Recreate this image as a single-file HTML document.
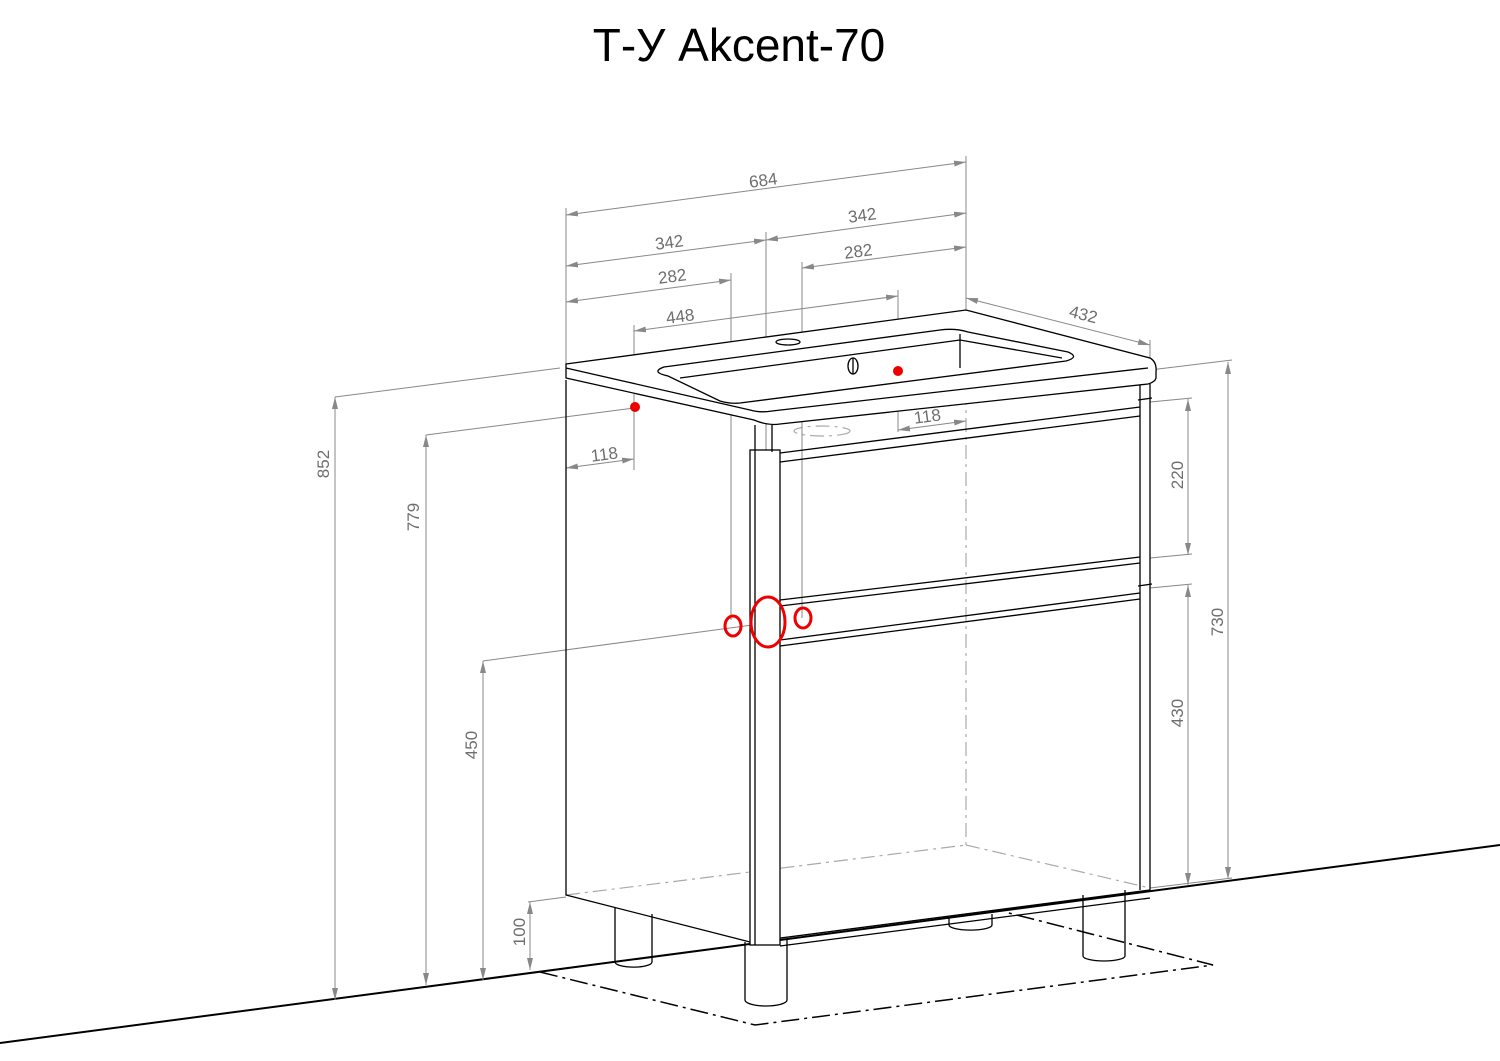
<!DOCTYPE html>
<html><head><meta charset="utf-8"><style>
html,body{margin:0;padding:0;background:#fff;}
svg{display:block}
.t{font-family:"Liberation Sans",sans-serif;fill:#6e6e6e;font-size:17px}
</style></head><body>
<svg width="1500" height="1061" viewBox="0 0 1500 1061" xmlns="http://www.w3.org/2000/svg">
<defs>
<marker id="a" markerWidth="12" markerHeight="8" refX="12" refY="4" orient="auto-start-reverse" markerUnits="userSpaceOnUse"><path d="M0,1 L12,4 L0,7 Z" fill="#888"/></marker>
</defs>
<text x="739" y="61" text-anchor="middle" font-family="Liberation Sans, sans-serif" font-size="46" fill="#000">Т-У Akcent-70</text>

<line x1="0" y1="1043" x2="1500" y2="845" stroke="#000" stroke-width="2"/>
<polyline points="540,972 755,1025 1213,965 1005,912" fill="none" stroke="#000" stroke-width="1.5" stroke-dasharray="18,5,3,5"/>

<g stroke="#aaa" stroke-width="1.2" stroke-dasharray="14,5,3,5" fill="none">
<line x1="966" y1="310" x2="966" y2="845"/>
<line x1="566" y1="895" x2="966" y2="845"/>
<line x1="966" y1="845" x2="1150" y2="888"/>
<ellipse cx="822" cy="431" rx="28" ry="5"/>
</g>

<g stroke="#888" stroke-width="1" fill="none">
<line x1="566" y1="365" x2="566" y2="208"/>
<line x1="966" y1="310" x2="966" y2="156"/>
<line x1="766" y1="232" x2="766" y2="622"/>
<line x1="731" y1="273" x2="731" y2="620"/>
<line x1="802" y1="262" x2="802" y2="618"/>
<line x1="634" y1="325" x2="634" y2="470"/>
<line x1="898" y1="290" x2="898" y2="432"/>
<line x1="1150" y1="340" x2="1150" y2="362"/>
<line x1="335" y1="397" x2="560" y2="368"/>
<line x1="426" y1="435" x2="634" y2="408"/>
<line x1="483" y1="661" x2="760" y2="624"/>
<line x1="528" y1="902" x2="566" y2="897"/>
<line x1="1150" y1="370" x2="1232" y2="360"/>
<line x1="1150" y1="402" x2="1192" y2="398"/>
<line x1="1150" y1="558" x2="1192" y2="554"/>
<line x1="1150" y1="588" x2="1192" y2="584"/>
<line x1="1150" y1="888" x2="1232" y2="878"/>
</g>
<g stroke="#888" stroke-width="1" fill="none" marker-start="url(#a)" marker-end="url(#a)">
<line x1="566" y1="215" x2="966" y2="162"/>
<line x1="566" y1="266" x2="766" y2="240"/>
<line x1="766" y1="240" x2="966" y2="213"/>
<line x1="566" y1="302" x2="731" y2="280"/>
<line x1="802" y1="268" x2="966" y2="247"/>
<line x1="634" y1="331" x2="898" y2="296"/>
<line x1="966" y1="298" x2="1150" y2="345"/>
<line x1="566" y1="468" x2="634" y2="459"/>
<line x1="898" y1="430" x2="966" y2="421"/>
<line x1="335" y1="397" x2="335" y2="1000"/>
<line x1="426" y1="435" x2="426" y2="985"/>
<line x1="483" y1="661" x2="483" y2="980"/>
<line x1="530" y1="902" x2="530" y2="970"/>
<line x1="1228" y1="362" x2="1228" y2="879"/>
<line x1="1188" y1="399" x2="1188" y2="555"/>
<line x1="1188" y1="585" x2="1188" y2="885"/>
</g>
<g class="t">
<text transform="translate(764,186) rotate(-7.5)" text-anchor="middle">684</text>
<text transform="translate(670,248) rotate(-7.5)" text-anchor="middle">342</text>
<text transform="translate(863,221) rotate(-7.5)" text-anchor="middle">342</text>
<text transform="translate(673,282) rotate(-7.5)" text-anchor="middle">282</text>
<text transform="translate(859,257) rotate(-7.5)" text-anchor="middle">282</text>
<text transform="translate(681,322) rotate(-7.5)" text-anchor="middle">448</text>
<text transform="translate(1082,320) rotate(14)" text-anchor="middle">432</text>
<text transform="translate(605,460) rotate(-7.5)" text-anchor="middle">118</text>
<text transform="translate(928,422) rotate(-7.5)" text-anchor="middle">118</text>
<text transform="translate(329,464) rotate(-90)" text-anchor="middle">852</text>
<text transform="translate(419,517) rotate(-90)" text-anchor="middle">779</text>
<text transform="translate(477,745) rotate(-90)" text-anchor="middle">450</text>
<text transform="translate(525,932) rotate(-90)" text-anchor="middle">100</text>
<text transform="translate(1223,622) rotate(-90)" text-anchor="middle">730</text>
<text transform="translate(1183,475) rotate(-90)" text-anchor="middle">220</text>
<text transform="translate(1183,713) rotate(-90)" text-anchor="middle">430</text>
</g>

<g stroke="#000" stroke-width="1.3" fill="none">
<path d="M615,908 V962 A18,5 0 0 0 652,962 V914"/>
<path d="M745,942 V1000 A21,6 0 0 0 787,1000 V940"/>
<path d="M949,918 V925 A21,5 0 0 0 992,925 V914"/>
<path d="M1083,895 V956 A21,5 0 0 0 1125,956 V890"/>
<path d="M566,380 V895 L750,942"/>
<path d="M750,942 L1150,890"/>
<path d="M780,946 L1150,898"/>
<rect x="750" y="450" width="30" height="495" fill="#fff"/>
<line x1="755" y1="425" x2="755" y2="945"/>
<line x1="772" y1="425" x2="772" y2="452"/>
<path d="M1140,378 V890 M1150,378 V890"/>
<path d="M780,453 L1140,407 M780,462 L1140,416"/>
<path d="M780,600 L1140,557 M780,606 L1140,563"/>
<path d="M780,640 L1140,593 M780,646 L1140,599"/>
<line x1="1138" y1="400" x2="1152" y2="398"/>
<line x1="1138" y1="586" x2="1152" y2="584"/>
<path d="M566,364 L966,310 L1150,358 Q1157,362 1156,372 L1156,378 Q1155,382 1148,384 L780,424 Q768,426 754,420 L566,378 Z" fill="#fff"/>
<path d="M566,368 L750,410 Q760,413 772,411 L1148,368"/>
<path d="M668,376 Q650,372 664,367 L940,330 Q955,328 968,332 L1068,352 Q1080,357 1066,361 L740,403 Q730,404 720,401 Z"/>
<path d="M680,378 L960,340 L1062,358"/>
<line x1="960" y1="334" x2="960" y2="368"/>
<ellipse cx="788" cy="342" rx="12" ry="3"/>
<ellipse cx="853" cy="366" rx="5" ry="8"/>
<line x1="853" y1="358" x2="853" y2="374"/>
</g>

<g stroke="#e00" stroke-width="3" fill="none">
<ellipse cx="733" cy="626" rx="8" ry="10"/>
<ellipse cx="768" cy="622" rx="17" ry="25"/>
<ellipse cx="803" cy="618" rx="8" ry="10"/>
</g>
<circle cx="635" cy="407" r="5" fill="#e00"/>
<circle cx="898" cy="371" r="5" fill="#e00"/>
</svg>
</body></html>
